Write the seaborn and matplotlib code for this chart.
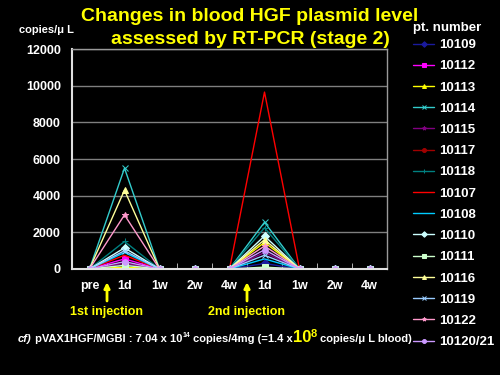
import matplotlib
matplotlib.use('Agg')
import matplotlib.pyplot as plt
import matplotlib.transforms as mtransforms
import seaborn as sns
import pandas as pd

# time points (two injection cycles)
timepoints = ['pre', '1d', '1w', '2w', '4w', '1d', '1w', '2w', '4w']

# patient ids in legend order
patients = ['10109', '10112', '10113', '10114', '10115', '10117', '10118', '10107',
            '10108', '10110', '10111', '10116', '10119', '10122', '10120/21']

# copies/uL
values = {
    '10109':    [0, 200, 0, 0, 0, 300, 0, 0, 0],
    '10112':    [0, 550, 0, 0, 0, 50, 0, 0, 0],
    '10113':    [0, 100, 0, 0, 0, 1450, 0, 0, 0],
    '10114':    [0, 5500, 0, 0, 0, 2550, 0, 0, 0],
    '10115':    [0, 300, 0, 0, 0, 900, 0, 0, 0],
    '10117':    [0, 0, 0, 0, 0, 0, 0, 0, 0],
    '10118':    [0, 1500, 0, 0, 0, 2250, 0, 0, 0],
    '10107':    [0, 750, 0, 0, 0, 9650, 0, 0, 0],
    '10108':    [0, 900, 0, 0, 0, 550, 0, 0, 0],
    '10110':    [0, 1150, 0, 0, 0, 1800, 0, 0, 0],
    '10111':    [0, 200, 0, 0, 0, 100, 0, 0, 0],
    '10116':    [0, 4300, 0, 0, 0, 1600, 0, 0, 0],
    '10119':    [0, 1000, 0, 0, 0, 750, 0, 0, 0],
    '10122':    [0, 2950, 0, 0, 0, 1250, 0, 0, 0],
    '10120/21': [0, 400, 0, 0, 0, 1050, 0, 0, 0],
}

colors = ['#1a1a9e', '#ff00ff', '#ffff00', '#33cccc', '#800080', '#a00000', '#008080',
          '#ff0000', '#00ccff', '#ccffff', '#ccffcc', '#ffff99', '#99ccff', '#ff99cc', '#cc99ff']
markers = ['D', 's', '^', 'x', '*', 'o', '+', None, None, 'D', 's', '^', 'x', '*', 'o']

yticks = [0, 2000, 4000, 6000, 8000, 10000, 12000]

sns.set_style('dark')
plt.rcParams['font.family'] = ['Liberation Sans', 'DejaVu Sans']

fig = plt.figure(figsize=(5, 3.75), dpi=100, facecolor='black')
ax = fig.add_axes([0.144, 0.2827, 0.63, 0.5866])
ax.set_facecolor('black')

for pt, clr, mk in zip(patients, colors, markers):
    df = pd.DataFrame({'pos': range(len(timepoints)), 'val': values[pt]})
    sns.lineplot(data=df, x='pos', y='val', ax=ax, color=clr, marker=mk,
                 markersize=4, markeredgecolor=clr, linewidth=1, label=pt)

ax.set_xlim(-0.5, len(timepoints) - 0.5)
ax.set_ylim(0, 12000)
ax.set_yticks(yticks)
ax.set_yticklabels([str(v) for v in yticks])
ax.set_xticks(range(len(timepoints)))
ax.set_xticklabels(timepoints)
ax.set_xticks([i + 0.5 for i in range(len(timepoints) - 1)], minor=True)
ax.set_xlabel('')
ax.set_ylabel('')
ax.grid(True, axis='y', color='#7f7f7f', linewidth=1)
ax.grid(False, axis='x')
ax.tick_params(axis='both', which='major', length=0, colors='white', labelsize=9, pad=8)
ax.tick_params(axis='x', which='minor', direction='in', length=4, color='#cccccc', bottom=True)
for lbl in ax.get_xticklabels() + ax.get_yticklabels():
    lbl.set_fontweight('bold')
for side in ['left', 'bottom']:
    ax.spines[side].set_color('#e0e0e0')
    ax.spines[side].set_linewidth(1.5)
for side in ['top', 'right']:
    ax.spines[side].set_color('#9a9a9a')
    ax.spines[side].set_linewidth(1)
    ax.spines[side].set_visible(True)
ax.spines['left'].set_visible(True)
ax.spines['bottom'].set_visible(True)

handles, labels = ax.get_legend_handles_labels()
ax.get_legend().remove()
leg = fig.legend(handles, labels, loc='upper left', bbox_to_anchor=(0.826, 0.896),
                 frameon=False, prop={'weight': 'bold', 'size': 9.5}, labelspacing=0.68,
                 handlelength=1.6, handletextpad=0.4, borderpad=0, borderaxespad=0,
                 markerscale=0.7)
for txt in leg.get_texts():
    txt.set_color('white')
fig.text(0.826, 0.925, 'pt. number', color='white', fontsize=9.5,
         fontweight='bold', ha='left', va='center')

# titles and notes
fig.text(0.5, 0.955, 'Changes in blood HGF plasmid level', color='#ffff00',
         fontsize=14, fontweight='bold', ha='center', va='center')
fig.text(0.5, 0.895, 'assessed by RT-PCR (stage 2)', color='#ffff00',
         fontsize=14, fontweight='bold', ha='center', va='center')
fig.text(0.092, 0.92, 'copies/\u03bc L', color='white', fontsize=8,
         fontweight='bold', ha='center', va='center')

# injection arrows
trans = mtransforms.blended_transform_factory(ax.transData, fig.transFigure)
for xpos, txt in [(0.5, '1st injection'), (4.5, '2nd injection')]:
    ax.annotate('', xy=(xpos, 0.255), xytext=(xpos, 0.19), xycoords=trans, textcoords=trans,
                arrowprops=dict(arrowstyle='-|>', color='#ffff00', lw=2, mutation_scale=8),
                annotation_clip=False)
    ax.text(xpos, 0.184, txt, transform=trans, color='#ffff00', fontsize=9,
            fontweight='bold', ha='center', va='top')

# footnote built piece by piece
fig.canvas.draw()
renderer = fig.canvas.get_renderer()
pieces = [('cf)', 'white', 8, 'italic', 'baseline'),
          (' pVAX1HGF/MGBI : 7.04 x 10', 'white', 8, 'normal', 'baseline'),
          ('14', 'white', 5, 'normal', 'super'),
          (' copies/4mg (=1.4 x', 'white', 8, 'normal', 'baseline'),
          ('10', '#ffff00', 12, 'normal', 'baseline'),
          ('8', '#ffff00', 8, 'normal', 'super'),
          (' copies/\u03bc L blood)', 'white', 8, 'normal', 'baseline')]
xpix = 18
base = 375 - 342
for txt, clr, size, style, pos in pieces:
    ypix = base + (5 if pos == 'super' else 0)
    t = fig.text(xpix / 500, ypix / 375, txt, color=clr, fontsize=size, fontstyle=style,
                 fontweight='bold', ha='left', va='baseline')
    bb = t.get_window_extent(renderer)
    xpix = bb.x1

fig.savefig('out.png', dpi=100, facecolor='black')
